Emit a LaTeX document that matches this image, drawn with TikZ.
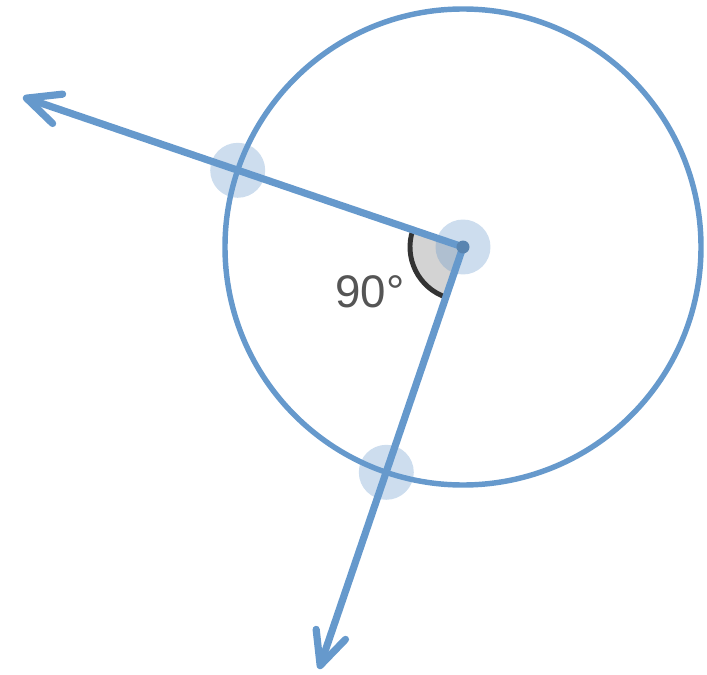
\documentclass[tikz,border=0pt]{standalone}
\usepackage{fontspec}
\setmainfont{Liberation Sans}
\usepackage{xcolor}
\usepackage{tikz}
\usetikzlibrary{calc,arrows.meta}
\definecolor{rayblue}{RGB}{102,153,204}
\definecolor{angfill}{RGB}{211,211,211}
\definecolor{angline}{RGB}{51,51,51}
\definecolor{labelgray}{RGB}{85,85,85}

\begin{document}
\begin{tikzpicture}[x=0.02cm,y=0.02cm,
      ray/.style={draw=rayblue,line width=4.1pt,line cap=round,-{Straight Barb[length=6.6mm,width=6.2mm,round]}},
      ring/.style={draw=rayblue,line width=3.1pt},
      pt/.style={circle,fill=rayblue,fill opacity=0.33,minimum size=1.1cm,inner sep=0pt},
      dot/.style={circle,fill=rayblue!80!black,minimum size=0.26cm,inner sep=0pt},
      angarc/.style={draw=angline,line width=2.8pt}]
    \useasboundingbox (0,0) rectangle (707,674);
    \coordinate (O) at (463,427);
    \coordinate (tipA) at (23,577);
    \coordinate (tipB) at (319,5);
    % right angle mark
    \fill[angfill] (O) -- ($(O)+(161.2:53)$) arc[start angle=161.2,end angle=251.2,radius=53] -- cycle;
    \draw[angarc] ($(O)+(161.2:53)$) arc[start angle=161.2,end angle=251.2,radius=53];
    \draw[ring] (O) circle[radius=238];
    \draw[ray] (O) -- (tipA);
    \draw[ray] (O) -- (tipB);
    \node[dot] (Oc) at (O) {};
    \node[pt] (P) at (O) {};
    \node[pt] (A) at ($(O)+(161.2:238)$) {};
    \node[pt] (B) at ($(O)+(251.2:238)$) {};
    \node[text=labelgray,font=\fontsize{26}{26}\selectfont] (lbl) at (370,382) {90°};
\end{tikzpicture}
\end{document}
